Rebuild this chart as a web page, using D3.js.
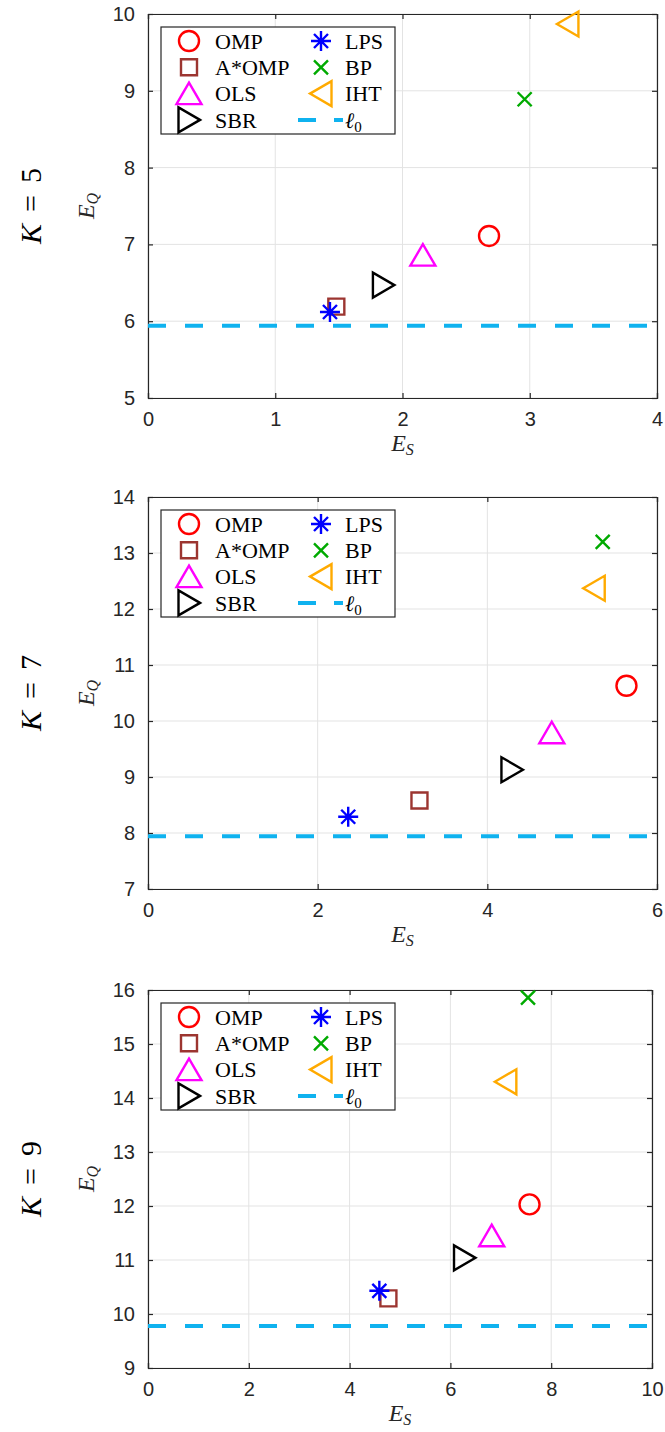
<!DOCTYPE html>
<html><head><meta charset="utf-8">
<script src="https://cdn.jsdelivr.net/npm/d3@7"></script>
<style>body{margin:0;background:#fff}svg{display:block}</style>
</head><body>
<script>
// ---- data ----
const methods = ["OMP","A*OMP","OLS","SBR","LPS","BP","IHT"];
const legendOrder = ["OMP","A*OMP","OLS","SBR","LPS","BP","IHT","l0"];
const kValues = [5, 7, 9];
const es5 = [2.68, 1.48, 2.16, 1.85, 1.43, 2.96, 3.30];
const eq5 = [7.11, 6.19, 6.86, 6.47, 6.12, 8.89, 9.87];
const es7 = [5.64, 3.20, 4.76, 4.29, 2.36, 5.36, 5.26];
const eq7 = [10.63, 8.58, 9.79, 9.13, 8.29, 13.20, 12.37];
const es9 = [7.57, 4.77, 6.82, 6.28, 4.59, 7.54, 7.10];
const eq9 = [12.03, 10.29, 11.45, 11.04, 10.43, 15.86, 14.30];
const l0Values = [5.94, 7.94, 9.78];
const xDomains = [[0,4],[0,6],[0,10]];
const yDomains = [[5,10],[7,14],[9,16]];
const xTicks5 = [0,1,2,3,4], yTicks5 = [5,6,7,8,9,10];
const xTicks7 = [0,2,4,6], yTicks7 = [7,8,9,10,11,12,13,14];
const xTicks9 = [0,2,4,6,8,10], yTicks9 = [9,10,11,12,13,14,15,16];

// ---- styles ----
const colors = {"OMP":"#ff0000","A*OMP":"#9c3530","OLS":"#ff00ff","SBR":"#000000",
  "LPS":"#0000ff","BP":"#00aa00","IHT":"#ffaa00","l0":"#0fb2ef"};
const shapes = {"OMP":"circle","A*OMP":"square","OLS":"triUp","SBR":"triRight",
  "LPS":"star","BP":"cross","IHT":"triLeft"};

function markerPath(shape){
  const p = d3.path();
  switch(shape){
    case "circle": p.moveTo(10,0); p.arc(0,0,10,0,2*Math.PI); break;
    case "square": p.rect(-8,-8,16,16); break;
    case "triUp": p.moveTo(0,-11); p.lineTo(12.5,10.5); p.lineTo(-12.5,10.5); p.closePath(); break;
    case "triRight": p.moveTo(11,0); p.lineTo(-10.5,-12.5); p.lineTo(-10.5,12.5); p.closePath(); break;
    case "triLeft": p.moveTo(-11,0); p.lineTo(10.5,-12.5); p.lineTo(10.5,12.5); p.closePath(); break;
    case "star": p.moveTo(-10,0); p.lineTo(10,0); p.moveTo(0,-10); p.lineTo(0,10);
      p.moveTo(-7,-7); p.lineTo(7,7); p.moveTo(-7,7); p.lineTo(7,-7); break;
    case "cross": p.moveTo(-7,-7); p.lineTo(7,7); p.moveTo(-7,7); p.lineTo(7,-7); break;
  }
  return p.toString();
}

const W = 665, H = 1432;
const svg = d3.select("body").append("svg").attr("width",W).attr("height",H)
  .attr("font-family","'Liberation Sans', Arial, sans-serif");

const panels = [
  {left:148, right:657, top:14, bottom:398, es:es5, eq:eq5, xt:xTicks5, yt:yTicks5},
  {left:148, right:657, top:497, bottom:889, es:es7, eq:eq7, xt:xTicks7, yt:yTicks7},
  {left:148, right:652, top:990, bottom:1368, es:es9, eq:eq9, xt:xTicks9, yt:yTicks9}
];

const axisColor = "#262626";
const serif = "'Liberation Serif','Times New Roman',serif";

panels.forEach((P, i) => {
  const x = d3.scaleLinear().domain(xDomains[i]).range([P.left, P.right]);
  const y = d3.scaleLinear().domain(yDomains[i]).range([P.bottom, P.top]);
  const g = svg.append("g");

  // grid
  g.append("g").selectAll("line").data(P.xt).join("line")
    .attr("x1",d=>x(d)).attr("x2",d=>x(d)).attr("y1",P.top).attr("y2",P.bottom)
    .attr("stroke","#e3e3e3").attr("stroke-width",1);
  g.append("g").selectAll("line").data(P.yt).join("line")
    .attr("y1",d=>y(d)).attr("y2",d=>y(d)).attr("x1",P.left).attr("x2",P.right)
    .attr("stroke","#e3e3e3").attr("stroke-width",1);

  // axes (inside ticks, all sides)
  const tk = 5;
  const axB = d3.axisBottom(x).tickValues(P.xt).tickSize(-tk).tickPadding(tk+9).tickFormat(d3.format("d"));
  const axT = d3.axisTop(x).tickValues(P.xt).tickSize(-tk).tickFormat("");
  const axL = d3.axisLeft(y).tickValues(P.yt).tickSize(-tk).tickPadding(tk+8).tickFormat(d3.format("d"));
  const axR = d3.axisRight(y).tickValues(P.yt).tickSize(-tk).tickFormat("");
  [[axB,`translate(0,${P.bottom})`],[axT,`translate(0,${P.top})`],
   [axL,`translate(${P.left},0)`],[axR,`translate(${P.right},0)`]].forEach(([ax,tr])=>{
    const a = g.append("g").attr("transform",tr).call(ax);
    a.select(".domain").attr("stroke",axisColor).attr("stroke-width",1.2);
    a.selectAll(".tick line").attr("stroke",axisColor).attr("stroke-width",1.2);
    a.selectAll(".tick text").attr("fill",axisColor).attr("font-size",20)
      .attr("font-family","'Liberation Sans', Arial, sans-serif");
  });

  // l0 dashed line
  g.append("line").attr("x1",x(xDomains[i][0])).attr("x2",x(xDomains[i][1]))
    .attr("y1",y(l0Values[i])).attr("y2",y(l0Values[i]))
    .attr("stroke",colors.l0).attr("stroke-width",4).attr("stroke-dasharray","18,19");

  // markers
  g.append("g").selectAll("path").data(methods).join("path")
    .attr("transform",(m,j)=>`translate(${x(P.es[j])},${y(P.eq[j])})`)
    .attr("d",m=>markerPath(shapes[m]))
    .attr("fill","none").attr("stroke",m=>colors[m]).attr("stroke-width",2.4);

  // axis labels
  const cx = (P.left+P.right)/2, cy = (P.top+P.bottom)/2;
  const xl = g.append("text").attr("x",cx).attr("y",P.bottom+53).attr("text-anchor","middle")
    .attr("font-family",serif).attr("font-style","italic").attr("font-size",24).attr("fill",axisColor);
  xl.append("tspan").text("E");
  xl.append("tspan").attr("font-size",16).attr("dy",4).text("S");

  const yl = g.append("text").attr("transform",`translate(${P.left-54},${cy}) rotate(-90)`)
    .attr("text-anchor","middle").attr("font-family",serif).attr("font-style","italic")
    .attr("font-size",24).attr("fill",axisColor);
  yl.append("tspan").text("E");
  yl.append("tspan").attr("font-size",16).attr("dy",4).text("Q");

  const kl = g.append("text").attr("transform",`translate(41,${cy}) rotate(-90)`)
    .attr("text-anchor","middle").attr("font-family",serif).attr("font-size",30).attr("fill","#000");
  kl.append("tspan").attr("font-style","italic").text("K");
  kl.append("tspan").attr("dx",12).text("=");
  kl.append("tspan").attr("dx",12).text(String(kValues[i]));

  // legend
  const lx = P.left + 13, ly = P.top + 13, lw = 234, lh = 107;
  const lg = g.append("g");
  lg.append("rect").attr("x",lx).attr("y",ly).attr("width",lw).attr("height",lh)
    .attr("fill","#fff").attr("stroke",axisColor).attr("stroke-width",1.2);
  const rowY = r => ly + 14 + r*26.3;
  legendOrder.forEach((m, k) => {
    const col = Math.floor(k/4), row = k%4;
    const mx = lx + (col===0 ? 28 : 160), ty = rowY(row);
    if (m === "l0") {
      lg.append("line").attr("x1",mx-23).attr("x2",mx+22).attr("y1",ty).attr("y2",ty)
        .attr("stroke",colors.l0).attr("stroke-width",4).attr("stroke-dasharray","18,18");
      const t = lg.append("text").attr("x",lx+184).attr("y",ty).attr("dy","0.35em")
        .attr("font-family",serif).attr("font-size",22).attr("font-style","italic").attr("fill","#000");
      t.append("tspan").text("ℓ");
      t.append("tspan").attr("font-style","normal").attr("font-size",15).attr("dy",4).text("0");
    } else {
      lg.append("path").attr("transform",`translate(${mx},${ty})`)
        .attr("d",markerPath(shapes[m])).attr("fill","none")
        .attr("stroke",colors[m]).attr("stroke-width",2.4);
      lg.append("text").attr("x",lx + (col===0 ? 54 : 184)).attr("y",ty).attr("dy","0.35em")
        .attr("font-family",serif).attr("font-size",22).attr("fill","#000").text(m);
    }
  });
});
</script>
</body></html>
